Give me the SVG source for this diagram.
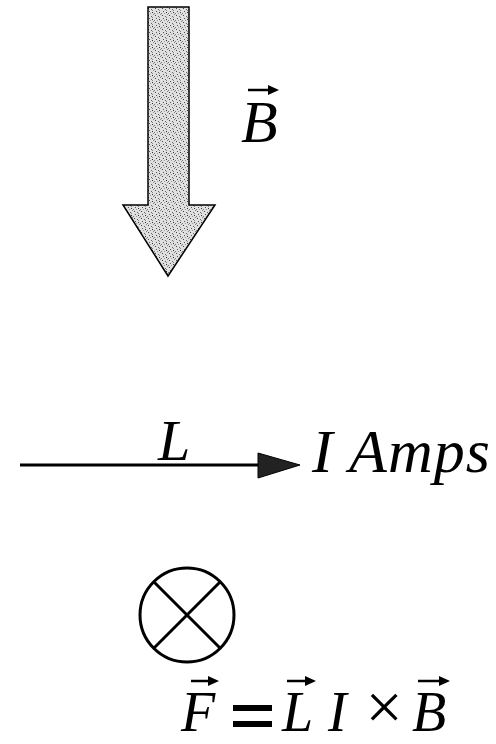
<svg xmlns="http://www.w3.org/2000/svg" width="496" height="744" viewBox="0 0 496 744">
  <style>
    .t { font-family: "Liberation Serif", "Times New Roman", serif; font-style: italic; fill: #000; }
    .vec { stroke: #000; stroke-width: 2.5; fill: none; }
    .vh { fill: #000; stroke: none; }
  </style>
  <defs>
    <pattern id="stip" width="7" height="7" patternUnits="userSpaceOnUse">
      <rect width="7" height="7" fill="#e0e0e0"/>
      <rect x="1" y="1" width="1" height="1" fill="#444"/>
      <rect x="4" y="2" width="1" height="1" fill="#666"/>
      <rect x="2" y="4" width="1" height="1" fill="#555"/>
      <rect x="5" y="5" width="1" height="1" fill="#333"/>
      <rect x="6" y="0" width="1" height="1" fill="#888"/>
      <rect x="0" y="6" width="1" height="1" fill="#777"/>
      <rect x="3" y="6" width="1" height="1" fill="#999"/>
      <rect x="5" y="3" width="1" height="1" fill="#888"/>
    </pattern>
  </defs>

  <g id="field-arrow">
    <path d="M148,7 L189,7 L189,205 L215,205 L168,276 L123,205 L148,205 Z" fill="url(#stip)" stroke="#000" stroke-width="1.5" stroke-linejoin="miter"/>
  </g>

  <g id="label-B">
    <line class="vec" x1="248" y1="90" x2="272" y2="90"/>
    <path class="vh" d="M268,85 L279,90 L268,95 Z"/>
    <text class="t" x="241" y="142" font-size="60">B</text>
  </g>

  <g id="connectors">
    <line x1="20" y1="465" x2="262" y2="465" stroke="#000" stroke-width="3"/>
    <path d="M258,453 L300,465 L258,478 Z" fill="#222" stroke="#000" stroke-width="1"/>
  </g>

  <g id="label-L">
    <text class="t" x="158" y="460" font-size="58">L</text>
  </g>

  <g id="label-current">
    <text class="t" x="312" y="472" font-size="62" textLength="178" lengthAdjust="spacing">I Amps</text>
  </g>

  <g id="into-page">
    <circle cx="187" cy="615" r="47" fill="none" stroke="#000" stroke-width="3"/>
    <line x1="154" y1="582" x2="220" y2="648" stroke="#000" stroke-width="3"/>
    <line x1="220" y1="582" x2="154" y2="648" stroke="#000" stroke-width="3"/>
  </g>

  <g id="equation">
    <line class="vec" x1="191" y1="681" x2="212" y2="681"/>
    <path class="vh" d="M208,676 L219,681 L208,686 Z"/>
    <text class="t" x="181" y="731" font-size="56">F</text>

    <rect x="233" y="705" width="39" height="6" fill="#000"/>
    <rect x="233" y="721" width="39" height="6" fill="#000"/>

    <line class="vec" x1="287" y1="681" x2="309" y2="681"/>
    <path class="vh" d="M305,676 L316,681 L305,686 Z"/>
    <text class="t" x="282" y="731" font-size="56">L</text>

    <text class="t" x="328" y="731" font-size="56">I</text>

    <text x="384" y="729" font-size="66" text-anchor="middle" font-family="'Liberation Serif', serif" fill="#000">×</text>

    <line class="vec" x1="418" y1="681" x2="443" y2="681"/>
    <path class="vh" d="M439,676 L450,681 L439,686 Z"/>
    <text class="t" x="412" y="731" font-size="56">B</text>
  </g>
</svg>
